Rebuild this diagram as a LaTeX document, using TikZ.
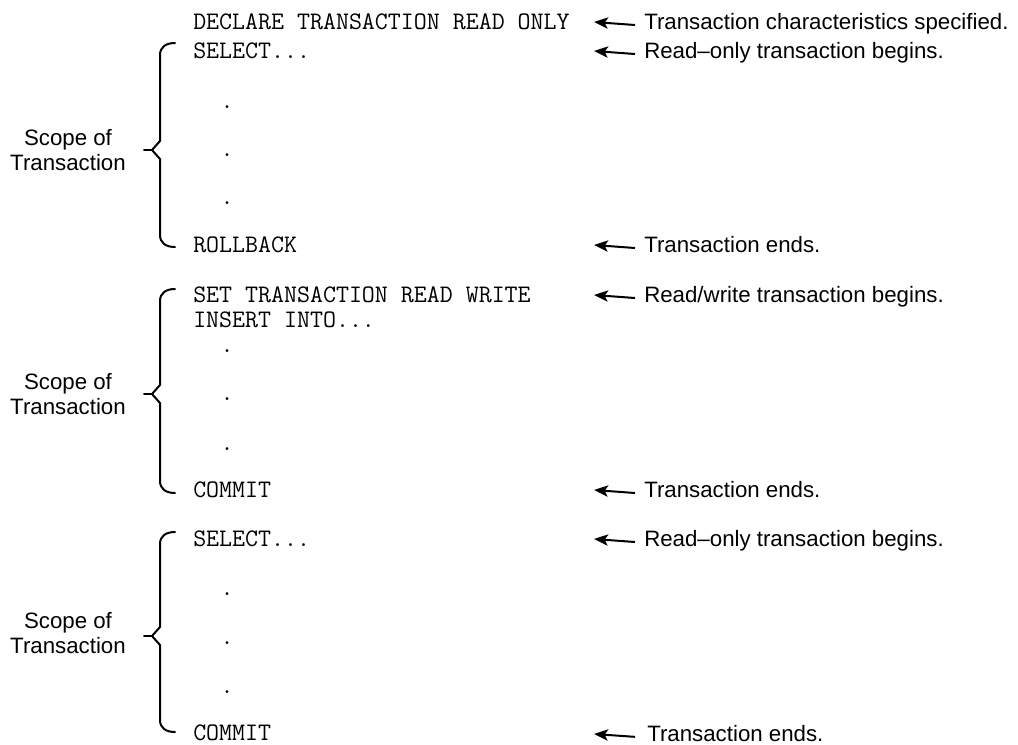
\documentclass[tikz,border=0pt]{standalone}
\usepackage{fontspec}
\setmainfont{Liberation Sans}
\setsansfont{Liberation Sans}
\usetikzlibrary{arrows.meta}

\tikzset{
  code/.style={anchor=base west, inner sep=0pt, font=\ttfamily\fontsize{18.9pt}{22pt}\selectfont},
  dot/.style={anchor=base, inner sep=0pt, font=\ttfamily\fontsize{18.9pt}{22pt}\selectfont},
  note/.style={anchor=base west, inner sep=0pt, text height=5pt, text depth=0pt,
               font=\fontsize{16.7pt}{20pt}\selectfont},
  scope/.style={anchor=base, inner sep=0pt, font=\fontsize{16.7pt}{20pt}\selectfont},
  pointer/.style={line width=1.5pt, -{Stealth[length=10.5pt,width=8.5pt,inset=2.5pt]}, shorten <=6.75pt},
  brace/.style={line width=1.5pt, line cap=round, line join=miter}
}

\begin{document}
\begin{tikzpicture}[x=0.75pt, y=-0.75pt]
\useasboundingbox[fill=white] (0,0) rectangle (1018,744);

% ---- statements ----
\node[code] (c1) at (193,29)  {DECLARE TRANSACTION READ ONLY};
\node[code] (c2) at (193,58)  {SELECT...};
\node[dot]  (d1) at (227,108) {.};
\node[dot]  (d2) at (227,156) {.};
\node[dot]  (d3) at (227,204) {.};
\node[code] (c3) at (193,252) {ROLLBACK};

\node[code] (c4) at (193,302) {SET TRANSACTION READ WRITE};
\node[code] (c5) at (193,327) {INSERT INTO...};
\node[dot]  (d4) at (227,352) {.};
\node[dot]  (d5) at (227,400) {.};
\node[dot]  (d6) at (227,450) {.};
\node[code] (c6) at (193,497) {COMMIT};

\node[code] (c7) at (193,546) {SELECT...};
\node[dot]  (d7) at (227,595) {.};
\node[dot]  (d8) at (227,644) {.};
\node[dot]  (d9) at (227,693) {.};
\node[code] (c8) at (193,740) {COMMIT};

% ---- annotations ----
\node[note] (n1) at (644,29)  {Transaction characteristics specified.};
\node[note] (n2) at (644,58)  {Read–only transaction begins.};
\node[note] (n3) at (644,252) {Transaction ends.};
\node[note] (n4) at (644,302) {Read/write transaction begins.};
\node[note] (n5) at (644,497) {Transaction ends.};
\node[note] (n6) at (644,546) {Read–only transaction begins.};
\node[note] (n7) at (647,741) {Transaction ends.};

\coordinate (t1) at (594,22);
\coordinate (t2) at (594,51);
\coordinate (t3) at (594,245);
\coordinate (t4) at (594,295);
\coordinate (t5) at (594,490);
\coordinate (t6) at (594,539);
\coordinate (t7) at (594,734);

\draw[pointer] (n1.west) -- (t1);
\draw[pointer] (n2.west) -- (t2);
\draw[pointer] (n3.west) -- (t3);
\draw[pointer] (n4.west) -- (t4);
\draw[pointer] (n5.west) -- (t5);
\draw[pointer] (n6.west) -- (t6);
\draw[pointer, shorten <=9pt] (n7.west) -- (t7);

% ---- scope labels ----
\node[scope] (s1a) at (68,145) {Scope of};
\node[scope] (s1b) at (68,170) {Transaction};
\node[scope] (s2a) at (68,389) {Scope of};
\node[scope] (s2b) at (68,414) {Transaction};
\node[scope] (s3a) at (68,628) {Scope of};
\node[scope] (s3b) at (68,653) {Transaction};

% ---- braces: hooked ends, pointed middle with a short tick ----
\draw[brace] (175,43) .. controls (166,43) and (160,47) .. (160,55)
  -- (160,141) -- (152,150) -- (160,159)
  -- (160,235) .. controls (160,243) and (166,247) .. (175,247);
\draw[brace] (152,150) -- (144,150);

\draw[brace] (175,289) .. controls (166,289) and (160,293) .. (160,301)
  -- (160,385) -- (152,394) -- (160,403)
  -- (160,481) .. controls (160,489) and (166,493) .. (175,493);
\draw[brace] (152,394) -- (144,394);

\draw[brace] (175,532) .. controls (166,532) and (160,536) .. (160,544)
  -- (160,627) -- (152,636) -- (160,645)
  -- (160,720) .. controls (160,728) and (166,732) .. (175,732);
\draw[brace] (152,636) -- (144,636);
\end{tikzpicture}
\end{document}
